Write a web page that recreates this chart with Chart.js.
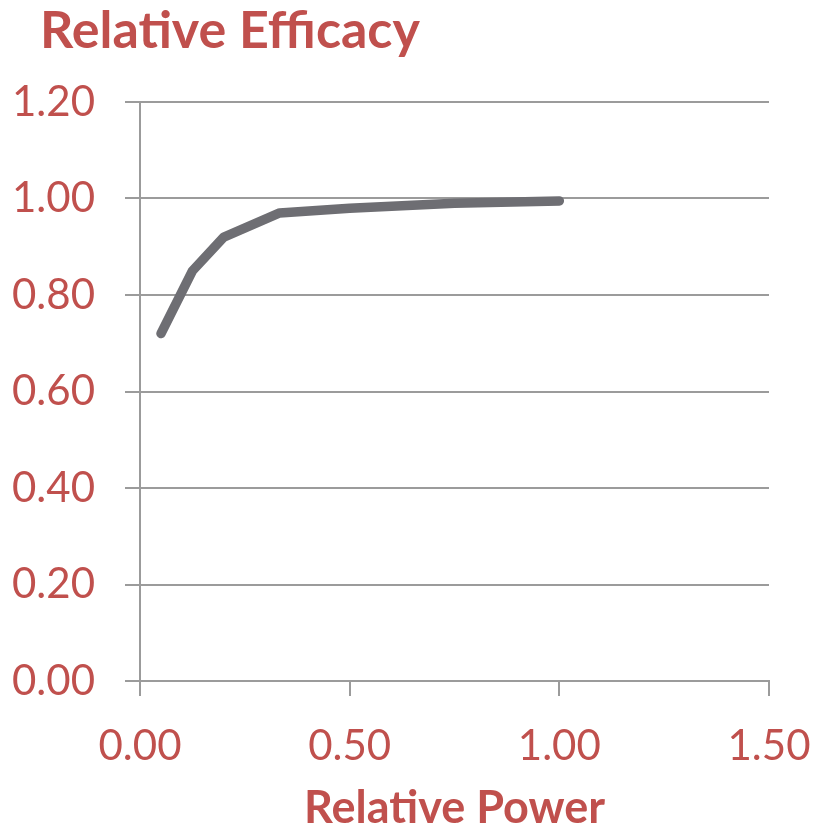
<!DOCTYPE html>
<html>
<head>
<meta charset="utf-8">
<script src="https://cdn.jsdelivr.net/npm/chart.js@4.4.1/dist/chart.umd.min.js"></script>
<style>
  html, body { margin: 0; padding: 0; background: #ffffff; }
  #wrap { width: 815px; height: 831px; }
</style>
</head>
<body>
<div id="wrap"><canvas id="myChart" width="815" height="831"></canvas></div>
<script>
// values
var relPower = [0.05, 0.125, 0.2, 0.333, 0.5, 0.75, 1.0];
var relEfficacy = [0.72, 0.85, 0.92, 0.97, 0.98, 0.99, 0.995];
var xTicks = [0, 0.5, 1.0, 1.5];
var yTicks = [0, 0.2, 0.4, 0.6, 0.8, 1.0, 1.2];
var chartTitle = "Relative Efficacy";
var xTitle = "Relative Power";

var red = "#C0504D";
var gridGray = "#9B9B9B";

// title sits left of the plot area, so draw it ourselves
var leftTitle = {
  id: "leftTitle",
  afterDraw: function (chart) {
    var c = chart.ctx;
    c.save();
    c.fillStyle = red;
    c.font = "bold 52px Lato";
    c.textAlign = "left";
    c.textBaseline = "alphabetic";
    c.fillText(chartTitle, 40, 48);
    c.restore();
  }
};

document.addEventListener("DOMContentLoaded", function () {
  var ctx = document.getElementById("myChart").getContext("2d");

  var points = relPower.map(function (x, i) { return { x: x, y: relEfficacy[i] }; });

  var config = {
    type: "scatter",
    data: {
      datasets: [{
        label: chartTitle,
        data: points,
        showLine: true,
        borderColor: "#6E6E73",
        borderWidth: 9.5,
        borderCapStyle: "round",
        borderJoinStyle: "round",
        pointRadius: 0,
        pointHoverRadius: 0,
        tension: 0
      }]
    },
    options: {
      responsive: false,
      animation: false,
      layout: { padding: { left: 0, right: 46, top: 102, bottom: 0 } },
      plugins: {
        legend: { display: false },
        tooltip: { enabled: false },
        title: { display: false }
      },
      scales: {
        x: {
          type: "linear",
          min: 0,
          max: 1.5,
          afterBuildTicks: function (axis) {
            axis.ticks = xTicks.map(function (v) { return { value: v }; });
          },
          afterFit: function (axis) {
            axis.height = 150;
            axis.paddingLeft = 0;
            axis.paddingRight = 0;
          },
          grid: {
            drawOnChartArea: false,
            drawTicks: true,
            tickLength: 15,
            color: gridGray,
            lineWidth: 2
          },
          border: { display: true, color: gridGray, width: 2 },
          ticks: {
            color: red,
            font: { family: "Lato", size: 42 },
            padding: 25,
            maxRotation: 0,
            callback: function (v) { return Number(v).toFixed(2); }
          },
          title: {
            display: true,
            text: xTitle,
            color: red,
            font: { family: "Lato", size: 45, weight: "bold", lineHeight: 1.0 },
            padding: { top: 8, bottom: 0 }
          }
        },
        y: {
          type: "linear",
          min: 0,
          max: 1.2,
          afterBuildTicks: function (axis) {
            axis.ticks = yTicks.map(function (v) { return { value: v }; });
          },
          afterFit: function (axis) { axis.width = 140; },
          grid: {
            drawOnChartArea: true,
            drawTicks: true,
            tickLength: 15,
            color: gridGray,
            lineWidth: 2
          },
          border: { display: true, color: gridGray, width: 2 },
          ticks: {
            color: red,
            font: { family: "Lato", size: 42 },
            padding: 30,
            callback: function (v) { return Number(v).toFixed(2); }
          }
        }
      }
    },
    plugins: [leftTitle]
  };

  var myChart = new Chart(ctx, config);
});
</script>
</body>
</html>
